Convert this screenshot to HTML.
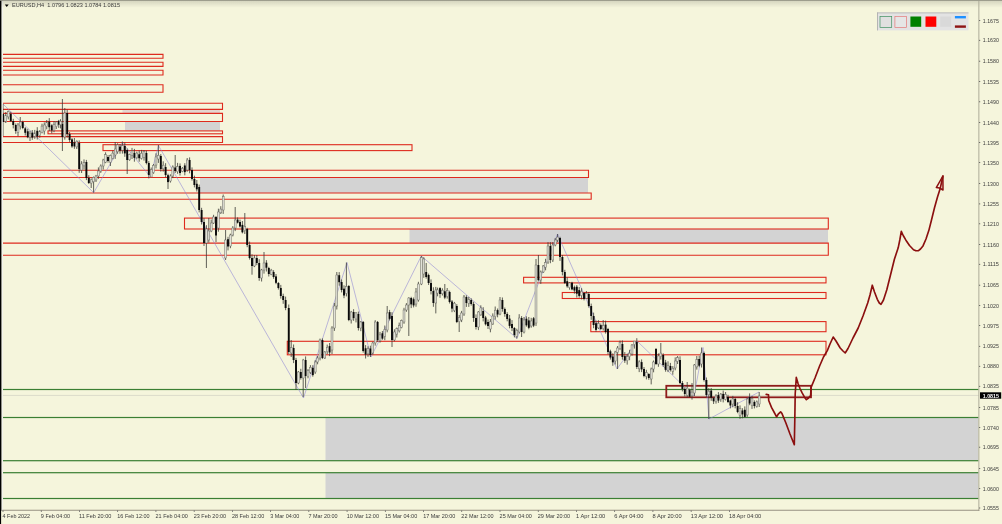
<!DOCTYPE html>
<html><head><meta charset="utf-8"><title>EURUSD,H4</title>
<style>
html,body{margin:0;padding:0;background:#F5F5DC;}
body{width:1002px;height:524px;overflow:hidden;}
svg text{font-family:"Liberation Sans",sans-serif;font-size:5.9px;}
svg{filter:blur(0.3px);}
</style></head><body>
<svg width="1002" height="524" viewBox="0 0 1002 524" style="display:block">
<rect x="0" y="0" width="1002" height="524" fill="#F5F5DC"/>
<rect x="122.5" y="109.8" width="97.50" height="3.60" fill="#E4D6CF"/>
<rect x="125" y="121.5" width="95.00" height="9.10" fill="#D3D3D3"/>
<rect x="200" y="177.5" width="388.00" height="15.50" fill="#D3D3D3"/>
<rect x="409.5" y="229" width="418.50" height="14.00" fill="#D3D3D3"/>
<rect x="325.5" y="418" width="652.90" height="42.30" fill="#D3D3D3"/>
<rect x="325.5" y="473" width="652.90" height="25.00" fill="#D3D3D3"/>
<rect x="3" y="388.9" width="975.6" height="1.2" fill="#3A7F33"/>
<rect x="3" y="416.9" width="975.6" height="1.2" fill="#3A7F33"/>
<rect x="3" y="460.09999999999997" width="975.6" height="1.2" fill="#3A7F33"/>
<rect x="3" y="472.09999999999997" width="975.6" height="1.2" fill="#3A7F33"/>
<rect x="3" y="497.9" width="975.6" height="1.2" fill="#3A7F33"/>
<rect x="3" y="394.95" width="976" height="0.7" fill="#D2D2C4"/>
<path d="M3 54.4H163V58.3H3" fill="none" stroke="#DE2A1E" stroke-width="1.1"/>
<path d="M3 62.2H163V66.4H3" fill="none" stroke="#DE2A1E" stroke-width="1.1"/>
<path d="M3 70.2H163V75.0H3" fill="none" stroke="#DE2A1E" stroke-width="1.1"/>
<path d="M3 84.7H163V92.3H3" fill="none" stroke="#DE2A1E" stroke-width="1.1"/>
<path d="M3 103.3H222.5V109.4H3" fill="none" stroke="#DE2A1E" stroke-width="1.1"/>
<path d="M3 113.4H222.5V121.5H3" fill="none" stroke="#DE2A1E" stroke-width="1.1"/>
<rect x="48" y="130.9" width="174.50" height="2.90" fill="none" stroke="#DE2A1E" stroke-width="1.1"/>
<path d="M3 136.6H222.5V142.5H3" fill="none" stroke="#DE2A1E" stroke-width="1.1"/>
<rect x="103" y="144.7" width="309.00" height="5.90" fill="none" stroke="#DE2A1E" stroke-width="1.1"/>
<path d="M3 170.2H588.5V177.5H3" fill="none" stroke="#DE2A1E" stroke-width="1.1"/>
<path d="M3 193H591.2V199.2H3" fill="none" stroke="#DE2A1E" stroke-width="1.1"/>
<rect x="184.5" y="218.1" width="643.80" height="10.90" fill="none" stroke="#DE2A1E" stroke-width="1.1"/>
<path d="M3 243.1H828.3V255.2H3" fill="none" stroke="#DE2A1E" stroke-width="1.1"/>
<rect x="287.3" y="341.3" width="538.70" height="13.50" fill="none" stroke="#DE2A1E" stroke-width="1.1"/>
<rect x="523.6" y="277.3" width="302.40" height="5.60" fill="none" stroke="#DE2A1E" stroke-width="1.1"/>
<rect x="562.3" y="292.5" width="263.70" height="6.00" fill="none" stroke="#DE2A1E" stroke-width="1.1"/>
<rect x="590.8" y="321.6" width="235.20" height="10.10" fill="none" stroke="#DE2A1E" stroke-width="1.1"/>
<rect x="666.3" y="385.8" width="144.7" height="11.5" fill="none" stroke="#8E1B1B" stroke-width="1.8"/>
<polyline fill="none" stroke="#8a80d4" stroke-width="0.55" points="3,104 93.7,192.7 122.4,142.7 150.5,177 158.4,145.4 303.5,398 347,262.5 371,357 421.3,256 517,338.5 557.5,234 617,369 637,341 694,396 703,347.5 709,419 759,392"/>
<path d="M3.00 104.0V136.0M5.75 112.1V123.0M8.25 110.5V119.4M10.75 111.8V122.0M13.25 118.8V128.4M15.75 123.5V133.8M18.00 123.0V136.2M20.25 117.0V129.5M22.75 120.7V129.2M25.25 127.1V135.5M27.75 128.8V138.2M30.00 130.8V141.0M32.25 130.0V139.8M34.75 129.9V138.8M37.25 127.2V139.5M39.75 130.1V137.7M42.00 123.7V133.4M44.25 122.4V134.6M46.75 120.0V129.3M49.25 118.1V131.0M51.75 124.3V133.4M54.00 121.1V132.2M56.25 121.1V129.0M58.75 119.9V127.9M60.50 119.2V128.4M62.40 99.0V151.0M64.80 108.0V139.6M67.20 109.6V137.6M69.60 131.9V141.9M72.00 138.1V147.8M74.40 138.0V148.8M76.80 140.4V149.0M79.20 140.4V172.8M81.60 161.2V173.0M84.00 159.4V169.5M86.40 159.9V180.1M88.80 175.2V184.0M91.20 178.4V188.0M93.60 176.5V192.6M96.00 174.9V182.0M98.40 167.4V178.8M100.80 164.4V172.9M103.20 158.8V169.5M105.60 152.3V163.2M108.00 155.1V162.6M110.40 154.6V166.0M112.80 150.6V159.4M115.20 142.0V158.9M117.60 143.3V153.8M120.00 144.2V153.7M122.40 141.5V153.6M124.80 142.6V156.8M127.20 148.5V174.0M129.60 153.7V160.8M132.00 147.9V159.0M134.40 148.9V161.7M136.80 151.6V159.2M139.20 150.6V161.7M141.60 149.9V159.5M144.00 150.0V160.6M146.40 150.7V164.4M148.80 161.1V178.4M151.20 167.5V177.0M153.60 164.0V173.8M156.00 153.3V168.4M158.40 145.0V162.9M160.80 154.1V171.6M163.20 161.3V171.7M165.60 163.2V177.2M168.00 173.7V189.0M170.40 174.3V182.6M172.80 165.4V178.1M175.20 155.0V173.0M177.60 162.9V173.8M180.00 163.4V175.5M182.40 167.0V172.2M184.80 163.2V175.3M187.20 158.0V171.8M189.60 157.4V173.3M192.00 167.4V180.6M194.40 175.7V187.4M196.80 180.0V191.5M199.20 184.6V212.4M201.60 207.8V224.5M204.00 218.2V246.0M206.40 225.2V268.0M208.80 218.0V242.6M211.20 219.5V232.2M213.60 214.8V224.0M216.00 216.0V242.0M218.40 208.7V231.7M220.80 206.2V214.0M223.20 194.5V213.9M225.60 230.0V260.0M228.00 236.8V250.4M230.40 233.7V248.2M232.80 226.1V236.4M235.20 207.0V231.1M237.60 217.4V223.5M240.00 219.6V227.5M242.40 221.0V233.4M244.80 213.0V234.0M247.20 227.8V247.2M249.60 241.6V259.6M252.00 254.3V274.7M254.40 255.0V267.1M256.80 255.0V265.2M259.20 259.2V280.8M261.60 268.9V281.5M264.00 252.0V273.6M266.40 260.1V271.5M268.80 266.8V276.5M271.20 268.9V275.2M273.60 270.2V278.8M276.00 274.0V284.2M278.40 282.1V289.6M280.80 284.9V298.6M283.20 293.7V303.8M285.60 296.6V310.2M288.75 304.5V354.1M291.20 340.0V357.0M293.60 344.5V363.1M296.00 357.9V390.0M298.40 371.0V384.2M300.80 368.8V379.6M303.20 358.9V397.0M305.60 356.4V388.0M308.00 369.0V378.3M310.40 365.1V374.0M312.80 365.2V376.7M315.20 360.2V373.9M317.60 356.0V364.3M320.00 338.6V360.4M322.40 338.4V359.1M324.80 351.1V358.9M327.20 344.6V354.1M329.60 343.0V356.1M332.00 326.2V354.0M334.40 302.9V330.9M336.80 272.0V309.5M339.20 272.1V285.7M341.60 279.5V292.4M344.00 285.3V298.2M346.40 262.5V296.4M348.80 285.1V321.2M351.20 310.9V323.5M353.60 309.2V320.8M356.00 312.1V322.4M358.40 311.6V330.5M360.80 321.0V331.2M363.20 321.0V352.6M365.60 345.1V358.5M368.00 346.3V356.9M370.40 345.7V357.0M372.80 341.7V354.6M375.20 320.2V345.6M377.60 321.0V341.7M380.00 331.9V342.6M382.40 331.0V339.8M384.80 325.5V340.2M387.20 306.0V332.3M389.60 309.9V320.4M392.00 312.2V347.0M394.40 329.3V341.3M396.80 327.5V337.5M399.20 322.6V332.5M401.60 319.6V328.3M404.00 307.8V323.8M406.40 303.1V311.8M408.80 297.2V336.0M411.20 296.8V308.1M413.60 297.5V307.4M416.00 288.0V306.7M418.40 281.8V301.7M421.40 256.0V285.1M423.80 257.3V277.8M426.20 263.0V278.7M428.60 273.6V285.0M431.00 279.4V294.4M433.40 287.3V306.8M435.80 286.9V313.4M437.60 287.6V296.3M440.00 287.2V297.8M442.40 288.3V295.5M444.80 284.0V299.2M447.20 288.0V298.6M449.60 290.7V303.5M452.00 300.0V312.2M454.40 301.9V312.1M456.80 304.1V323.1M459.20 314.9V332.0M461.60 310.9V322.1M464.00 295.0V315.9M466.40 295.3V306.9M468.80 296.9V306.9M471.20 298.3V305.6M473.60 301.8V321.9M476.00 314.4V329.5M478.40 311.1V330.1M480.80 305.3V315.8M483.20 307.2V321.4M485.60 315.9V325.5M488.00 319.5V329.0M490.40 319.0V332.3M492.80 313.4V324.9M495.20 306.5V319.6M497.60 308.5V317.3M500.00 297.0V315.2M502.40 297.5V311.7M504.80 307.5V316.7M507.20 312.2V321.3M509.60 315.0V328.3M512.00 320.1V331.1M514.40 327.1V337.4M516.80 328.7V338.5M519.20 314.2V333.5M521.60 316.1V337.0M524.00 317.0V333.4M526.40 316.3V326.7M528.80 317.0V329.3M531.20 317.8V327.7M533.60 317.0V327.1M536.00 259.0V325.9M538.40 255.0V281.3M540.80 270.5V283.9M543.20 265.0V273.0M545.60 258.8V270.3M548.00 242.2V263.9M550.40 242.2V263.2M552.80 242.1V262.0M555.20 238.1V246.3M557.60 234.0V242.0M560.00 236.8V260.9M562.40 255.1V275.4M564.80 269.8V284.0M567.20 277.4V287.7M569.60 282.1V289.7M572.00 281.8V290.3M574.40 285.6V293.7M576.80 285.0V297.6M579.20 287.0V297.7M581.60 288.2V299.4M584.00 292.1V300.4M586.40 291.0V299.0M588.80 292.0V307.6M591.20 303.6V319.8M593.60 312.6V328.2M596.00 320.5V331.7M598.40 320.2V329.0M600.80 323.5V330.0M603.20 320.0V330.5M605.60 320.6V333.6M608.00 327.9V354.4M610.40 349.7V359.6M612.80 353.3V365.8M615.20 350.8V364.5M617.60 346.0V369.0M620.00 340.6V350.1M622.40 340.4V359.7M624.80 352.1V362.9M627.20 353.7V364.6M629.60 349.8V360.2M632.00 344.1V355.7M634.40 341.0V348.6M636.80 338.2V369.0M639.20 360.3V372.1M641.60 359.4V372.1M644.00 367.0V377.3M646.40 369.8V379.4M648.80 373.2V379.8M651.20 367.6V384.4M653.60 360.5V372.3M656.00 348.0V365.1M658.40 353.4V366.8M660.80 343.0V359.6M663.20 353.3V366.8M665.60 359.9V371.7M668.00 361.3V372.1M670.40 362.9V371.5M672.80 366.1V374.7M675.20 357.4V370.3M677.60 356.0V364.0M680.00 356.3V384.1M682.40 381.0V391.4M684.80 387.3V396.5M687.20 382.0V397.7M689.60 388.7V396.7M692.00 383.0V399.6M694.40 364.0V396.0M696.80 356.0V369.6M699.20 355.7V367.2M701.60 347.5V367.5M704.00 351.6V381.5M706.40 377.5V397.0M708.80 388.1V419.0M711.20 388.0V400.8M713.60 396.9V404.0M716.00 394.2V403.6M718.40 392.1V402.9M720.80 393.0V401.8M723.20 390.6V402.4M725.60 392.0V400.5M728.00 394.8V403.1M730.40 399.6V408.4M732.80 395.9V407.3M735.20 398.0V408.4M737.60 402.2V413.2M740.00 405.4V418.8M742.40 408.2V418.3M744.80 406.4V417.6M747.20 398.0V416.9M749.60 393.4V405.2M752.00 396.0V408.9M754.40 400.4V408.4M756.80 400.5V407.6M759.20 392.0V407.0" stroke="#3a3a36" stroke-width="0.8" fill="none"/>
<g fill="#0a0a0a"><rect x="2.05" y="114.0" width="1.9" height="8.0"/><rect x="9.80" y="114.0" width="1.9" height="7.0"/><rect x="12.30" y="121.0" width="1.9" height="4.0"/><rect x="14.80" y="125.0" width="1.9" height="6.0"/><rect x="21.80" y="122.0" width="1.9" height="6.0"/><rect x="24.30" y="128.4" width="1.9" height="4.4"/><rect x="26.80" y="131.3" width="1.9" height="5.9"/><rect x="31.30" y="132.7" width="1.9" height="4.9"/><rect x="36.30" y="130.8" width="1.9" height="5.6"/><rect x="48.30" y="121.6" width="1.9" height="5.6"/><rect x="50.80" y="125.3" width="1.9" height="5.1"/><rect x="57.80" y="120.9" width="1.9" height="3.8"/><rect x="61.45" y="124.0" width="1.9" height="13.0"/><rect x="66.25" y="113.0" width="1.9" height="21.0"/><rect x="68.65" y="134.0" width="1.9" height="6.0"/><rect x="71.05" y="139.4" width="1.9" height="7.0"/><rect x="73.45" y="142.4" width="1.9" height="4.0"/><rect x="78.25" y="143.0" width="1.9" height="26.0"/><rect x="85.45" y="162.0" width="1.9" height="16.0"/><rect x="87.85" y="178.0" width="1.9" height="5.0"/><rect x="107.05" y="157.0" width="1.9" height="4.0"/><rect x="119.05" y="146.7" width="1.9" height="3.8"/><rect x="123.85" y="146.0" width="1.9" height="7.4"/><rect x="126.25" y="150.0" width="1.9" height="10.0"/><rect x="133.45" y="152.9" width="1.9" height="5.0"/><rect x="138.25" y="154.3" width="1.9" height="3.9"/><rect x="145.45" y="153.0" width="1.9" height="10.0"/><rect x="147.85" y="163.0" width="1.9" height="12.0"/><rect x="159.85" y="156.0" width="1.9" height="13.0"/><rect x="164.65" y="167.0" width="1.9" height="8.0"/><rect x="167.05" y="175.2" width="1.9" height="6.9"/><rect x="174.25" y="167.5" width="1.9" height="3.6"/><rect x="179.05" y="165.9" width="1.9" height="7.1"/><rect x="183.85" y="165.5" width="1.9" height="6.6"/><rect x="188.65" y="160.0" width="1.9" height="10.0"/><rect x="191.05" y="170.0" width="1.9" height="9.0"/><rect x="193.45" y="179.0" width="1.9" height="6.0"/><rect x="195.85" y="183.8" width="1.9" height="5.5"/><rect x="198.25" y="187.0" width="1.9" height="23.0"/><rect x="200.65" y="210.0" width="1.9" height="12.0"/><rect x="203.05" y="222.0" width="1.9" height="21.0"/><rect x="215.05" y="217.0" width="1.9" height="18.5"/><rect x="227.05" y="239.2" width="1.9" height="7.3"/><rect x="236.65" y="219.6" width="1.9" height="3.1"/><rect x="239.05" y="222.0" width="1.9" height="4.5"/><rect x="241.45" y="224.9" width="1.9" height="7.4"/><rect x="246.25" y="229.0" width="1.9" height="16.0"/><rect x="248.65" y="245.0" width="1.9" height="13.0"/><rect x="251.05" y="258.0" width="1.9" height="8.0"/><rect x="255.85" y="258.0" width="1.9" height="5.0"/><rect x="258.25" y="263.0" width="1.9" height="15.0"/><rect x="265.45" y="262.7" width="1.9" height="5.0"/><rect x="267.85" y="268.0" width="1.9" height="6.0"/><rect x="272.65" y="272.0" width="1.9" height="5.0"/><rect x="275.05" y="276.4" width="1.9" height="6.4"/><rect x="277.45" y="283.0" width="1.9" height="5.0"/><rect x="279.85" y="288.0" width="1.9" height="8.0"/><rect x="282.25" y="296.0" width="1.9" height="4.0"/><rect x="284.65" y="300.0" width="1.9" height="8.0"/><rect x="287.80" y="308.0" width="1.9" height="44.0"/><rect x="292.65" y="348.0" width="1.9" height="12.0"/><rect x="295.05" y="360.0" width="1.9" height="23.0"/><rect x="299.85" y="372.0" width="1.9" height="6.0"/><rect x="304.65" y="360.0" width="1.9" height="16.0"/><rect x="311.85" y="367.8" width="1.9" height="7.3"/><rect x="321.45" y="340.0" width="1.9" height="18.0"/><rect x="328.65" y="346.1" width="1.9" height="6.4"/><rect x="338.25" y="275.2" width="1.9" height="7.0"/><rect x="340.65" y="282.0" width="1.9" height="8.0"/><rect x="343.05" y="288.7" width="1.9" height="6.8"/><rect x="347.85" y="286.0" width="1.9" height="34.0"/><rect x="352.65" y="312.0" width="1.9" height="6.0"/><rect x="357.45" y="314.0" width="1.9" height="14.0"/><rect x="362.25" y="322.0" width="1.9" height="29.0"/><rect x="364.65" y="348.3" width="1.9" height="6.3"/><rect x="369.45" y="348.5" width="1.9" height="6.5"/><rect x="376.65" y="322.0" width="1.9" height="18.0"/><rect x="381.45" y="333.3" width="1.9" height="5.3"/><rect x="388.65" y="312.1" width="1.9" height="6.7"/><rect x="391.05" y="316.0" width="1.9" height="24.0"/><rect x="410.25" y="298.0" width="1.9" height="6.4"/><rect x="412.65" y="299.2" width="1.9" height="6.2"/><rect x="425.25" y="272.0" width="1.9" height="5.0"/><rect x="427.65" y="275.0" width="1.9" height="8.0"/><rect x="430.05" y="283.0" width="1.9" height="8.0"/><rect x="432.45" y="291.0" width="1.9" height="12.0"/><rect x="439.05" y="288.1" width="1.9" height="5.9"/><rect x="443.85" y="291.3" width="1.9" height="6.3"/><rect x="448.65" y="292.0" width="1.9" height="10.0"/><rect x="451.05" y="301.5" width="1.9" height="7.1"/><rect x="455.85" y="306.0" width="1.9" height="16.0"/><rect x="465.45" y="297.0" width="1.9" height="6.0"/><rect x="470.25" y="300.0" width="1.9" height="4.0"/><rect x="472.65" y="304.0" width="1.9" height="14.0"/><rect x="475.05" y="318.0" width="1.9" height="9.0"/><rect x="482.25" y="311.0" width="1.9" height="7.0"/><rect x="484.65" y="317.5" width="1.9" height="6.8"/><rect x="487.05" y="322.0" width="1.9" height="4.0"/><rect x="496.65" y="310.1" width="1.9" height="4.4"/><rect x="501.45" y="300.0" width="1.9" height="9.0"/><rect x="503.85" y="309.0" width="1.9" height="5.0"/><rect x="506.25" y="314.0" width="1.9" height="5.0"/><rect x="508.65" y="318.6" width="1.9" height="7.3"/><rect x="511.05" y="324.0" width="1.9" height="4.1"/><rect x="513.45" y="328.0" width="1.9" height="7.0"/><rect x="520.65" y="318.0" width="1.9" height="14.0"/><rect x="525.45" y="318.7" width="1.9" height="6.6"/><rect x="527.85" y="320.4" width="1.9" height="7.4"/><rect x="532.65" y="318.3" width="1.9" height="7.3"/><rect x="537.45" y="265.0" width="1.9" height="15.0"/><rect x="549.45" y="246.0" width="1.9" height="14.0"/><rect x="559.05" y="238.0" width="1.9" height="19.0"/><rect x="561.45" y="257.0" width="1.9" height="15.0"/><rect x="563.85" y="272.0" width="1.9" height="11.0"/><rect x="566.25" y="281.2" width="1.9" height="5.1"/><rect x="571.05" y="282.7" width="1.9" height="6.7"/><rect x="573.45" y="287.2" width="1.9" height="3.3"/><rect x="575.85" y="286.7" width="1.9" height="7.0"/><rect x="578.25" y="290.1" width="1.9" height="5.8"/><rect x="583.05" y="293.0" width="1.9" height="5.9"/><rect x="587.85" y="294.0" width="1.9" height="12.0"/><rect x="590.25" y="306.0" width="1.9" height="10.0"/><rect x="592.65" y="316.0" width="1.9" height="9.0"/><rect x="595.05" y="323.2" width="1.9" height="6.7"/><rect x="599.85" y="325.1" width="1.9" height="3.9"/><rect x="604.65" y="324.6" width="1.9" height="7.4"/><rect x="607.05" y="329.0" width="1.9" height="23.0"/><rect x="609.45" y="351.3" width="1.9" height="6.2"/><rect x="611.85" y="356.5" width="1.9" height="5.8"/><rect x="621.45" y="344.0" width="1.9" height="13.0"/><rect x="623.85" y="356.1" width="1.9" height="4.5"/><rect x="635.85" y="342.0" width="1.9" height="25.0"/><rect x="640.65" y="362.1" width="1.9" height="7.3"/><rect x="643.05" y="369.0" width="1.9" height="7.0"/><rect x="647.85" y="374.0" width="1.9" height="4.0"/><rect x="655.05" y="349.0" width="1.9" height="15.0"/><rect x="662.25" y="355.0" width="1.9" height="10.0"/><rect x="664.65" y="362.5" width="1.9" height="7.3"/><rect x="669.45" y="366.0" width="1.9" height="4.0"/><rect x="679.05" y="360.0" width="1.9" height="23.0"/><rect x="681.45" y="383.0" width="1.9" height="6.0"/><rect x="683.85" y="389.0" width="1.9" height="5.0"/><rect x="688.65" y="390.1" width="1.9" height="6.6"/><rect x="698.25" y="359.0" width="1.9" height="6.7"/><rect x="703.05" y="353.0" width="1.9" height="27.0"/><rect x="705.45" y="380.0" width="1.9" height="15.0"/><rect x="710.25" y="390.6" width="1.9" height="7.0"/><rect x="712.65" y="398.1" width="1.9" height="3.2"/><rect x="717.45" y="395.0" width="1.9" height="5.6"/><rect x="722.25" y="393.9" width="1.9" height="5.2"/><rect x="727.05" y="397.0" width="1.9" height="5.0"/><rect x="729.45" y="400.5" width="1.9" height="5.0"/><rect x="734.25" y="399.0" width="1.9" height="7.0"/><rect x="736.65" y="406.0" width="1.9" height="6.0"/><rect x="741.45" y="410.5" width="1.9" height="3.9"/><rect x="743.85" y="409.8" width="1.9" height="7.1"/><rect x="748.65" y="397.1" width="1.9" height="6.4"/><rect x="753.45" y="402.0" width="1.9" height="4.0"/></g>
<g fill="#E2E2D8" stroke="#6f6f67" stroke-width="0.5"><rect x="4.80" y="115.0" width="1.9" height="7.0"/><rect x="7.30" y="111.5" width="1.9" height="5.4"/><rect x="17.05" y="125.0" width="1.9" height="7.3"/><rect x="19.30" y="122.0" width="1.9" height="4.0"/><rect x="29.05" y="133.8" width="1.9" height="3.3"/><rect x="33.80" y="132.9" width="1.9" height="4.3"/><rect x="38.80" y="131.3" width="1.9" height="4.3"/><rect x="41.05" y="126.1" width="1.9" height="6.4"/><rect x="43.30" y="125.0" width="1.9" height="6.0"/><rect x="45.80" y="122.2" width="1.9" height="4.4"/><rect x="53.05" y="124.5" width="1.9" height="5.9"/><rect x="55.30" y="122.0" width="1.9" height="4.7"/><rect x="59.55" y="121.2" width="1.9" height="3.6"/><rect x="63.85" y="113.0" width="1.9" height="24.0"/><rect x="75.85" y="141.2" width="1.9" height="5.7"/><rect x="80.65" y="164.0" width="1.9" height="6.1"/><rect x="83.05" y="162.7" width="1.9" height="3.2"/><rect x="90.25" y="179.8" width="1.9" height="3.3"/><rect x="92.65" y="177.3" width="1.9" height="4.5"/><rect x="95.05" y="176.0" width="1.9" height="4.0"/><rect x="97.45" y="171.0" width="1.9" height="5.0"/><rect x="99.85" y="166.0" width="1.9" height="5.0"/><rect x="102.25" y="160.0" width="1.9" height="6.0"/><rect x="104.65" y="154.7" width="1.9" height="7.5"/><rect x="109.45" y="155.5" width="1.9" height="6.7"/><rect x="111.85" y="153.1" width="1.9" height="5.4"/><rect x="114.25" y="149.0" width="1.9" height="6.0"/><rect x="116.65" y="144.9" width="1.9" height="6.9"/><rect x="121.45" y="145.7" width="1.9" height="4.5"/><rect x="128.65" y="154.5" width="1.9" height="5.3"/><rect x="131.05" y="150.9" width="1.9" height="4.3"/><rect x="135.85" y="153.1" width="1.9" height="4.6"/><rect x="140.65" y="153.2" width="1.9" height="5.2"/><rect x="143.05" y="151.3" width="1.9" height="6.0"/><rect x="150.25" y="169.6" width="1.9" height="7.4"/><rect x="152.65" y="165.3" width="1.9" height="7.3"/><rect x="155.05" y="157.0" width="1.9" height="8.0"/><rect x="157.45" y="155.3" width="1.9" height="3.7"/><rect x="162.25" y="165.2" width="1.9" height="3.6"/><rect x="169.45" y="176.0" width="1.9" height="5.0"/><rect x="171.85" y="167.0" width="1.9" height="9.0"/><rect x="176.65" y="166.6" width="1.9" height="5.1"/><rect x="181.45" y="168.3" width="1.9" height="3.1"/><rect x="186.25" y="160.0" width="1.9" height="10.0"/><rect x="205.45" y="229.0" width="1.9" height="14.0"/><rect x="207.85" y="231.0" width="1.9" height="9.0"/><rect x="210.25" y="223.0" width="1.9" height="8.0"/><rect x="212.65" y="217.0" width="1.9" height="6.0"/><rect x="217.45" y="212.0" width="1.9" height="16.0"/><rect x="219.85" y="209.1" width="1.9" height="3.7"/><rect x="222.25" y="196.5" width="1.9" height="13.5"/><rect x="224.65" y="240.0" width="1.9" height="18.0"/><rect x="229.45" y="235.0" width="1.9" height="11.0"/><rect x="231.85" y="228.0" width="1.9" height="7.0"/><rect x="234.25" y="220.0" width="1.9" height="8.0"/><rect x="243.85" y="226.5" width="1.9" height="4.2"/><rect x="253.45" y="258.0" width="1.9" height="8.0"/><rect x="260.65" y="270.0" width="1.9" height="8.0"/><rect x="263.05" y="263.0" width="1.9" height="7.0"/><rect x="270.25" y="270.2" width="1.9" height="4.1"/><rect x="290.25" y="347.7" width="1.9" height="5.3"/><rect x="297.45" y="372.0" width="1.9" height="11.0"/><rect x="302.25" y="360.0" width="1.9" height="18.0"/><rect x="307.05" y="370.6" width="1.9" height="6.0"/><rect x="309.45" y="367.3" width="1.9" height="5.1"/><rect x="314.25" y="362.0" width="1.9" height="10.0"/><rect x="316.65" y="358.0" width="1.9" height="4.0"/><rect x="319.05" y="340.0" width="1.9" height="18.0"/><rect x="323.85" y="352.0" width="1.9" height="6.0"/><rect x="326.25" y="347.3" width="1.9" height="4.4"/><rect x="331.05" y="328.0" width="1.9" height="22.0"/><rect x="333.45" y="306.0" width="1.9" height="22.0"/><rect x="335.85" y="275.0" width="1.9" height="31.0"/><rect x="345.45" y="286.4" width="1.9" height="7.0"/><rect x="350.25" y="312.0" width="1.9" height="8.0"/><rect x="355.05" y="312.9" width="1.9" height="6.1"/><rect x="359.85" y="322.0" width="1.9" height="6.0"/><rect x="367.05" y="348.7" width="1.9" height="5.2"/><rect x="371.85" y="343.0" width="1.9" height="10.0"/><rect x="374.25" y="322.0" width="1.9" height="21.0"/><rect x="379.05" y="334.9" width="1.9" height="6.0"/><rect x="383.85" y="329.4" width="1.9" height="7.0"/><rect x="386.25" y="313.0" width="1.9" height="17.0"/><rect x="393.45" y="332.0" width="1.9" height="8.0"/><rect x="395.85" y="328.7" width="1.9" height="5.4"/><rect x="398.25" y="325.6" width="1.9" height="5.3"/><rect x="400.65" y="320.5" width="1.9" height="7.0"/><rect x="403.05" y="310.0" width="1.9" height="12.0"/><rect x="405.45" y="305.0" width="1.9" height="5.0"/><rect x="407.85" y="298.0" width="1.9" height="7.0"/><rect x="415.05" y="292.0" width="1.9" height="12.0"/><rect x="417.45" y="284.0" width="1.9" height="16.0"/><rect x="420.45" y="257.5" width="1.9" height="26.5"/><rect x="422.85" y="259.0" width="1.9" height="15.0"/><rect x="434.85" y="290.0" width="1.9" height="13.0"/><rect x="436.65" y="289.9" width="1.9" height="3.2"/><rect x="441.45" y="290.2" width="1.9" height="3.6"/><rect x="446.25" y="290.6" width="1.9" height="6.0"/><rect x="453.45" y="303.2" width="1.9" height="7.5"/><rect x="458.25" y="317.5" width="1.9" height="4.1"/><rect x="460.65" y="313.0" width="1.9" height="7.0"/><rect x="463.05" y="297.0" width="1.9" height="17.0"/><rect x="467.85" y="299.7" width="1.9" height="3.6"/><rect x="477.45" y="312.0" width="1.9" height="15.0"/><rect x="479.85" y="307.9" width="1.9" height="7.0"/><rect x="489.45" y="321.8" width="1.9" height="7.2"/><rect x="491.85" y="316.0" width="1.9" height="8.0"/><rect x="494.25" y="310.2" width="1.9" height="6.5"/><rect x="499.05" y="300.0" width="1.9" height="14.0"/><rect x="515.85" y="330.3" width="1.9" height="6.0"/><rect x="518.25" y="318.0" width="1.9" height="14.0"/><rect x="523.05" y="320.0" width="1.9" height="12.0"/><rect x="530.25" y="321.0" width="1.9" height="5.0"/><rect x="535.05" y="265.0" width="1.9" height="58.0"/><rect x="539.85" y="272.0" width="1.9" height="8.0"/><rect x="542.25" y="266.0" width="1.9" height="6.0"/><rect x="544.65" y="262.4" width="1.9" height="4.8"/><rect x="547.05" y="246.0" width="1.9" height="16.0"/><rect x="551.85" y="245.0" width="1.9" height="15.0"/><rect x="554.25" y="240.0" width="1.9" height="5.0"/><rect x="556.65" y="237.1" width="1.9" height="3.0"/><rect x="568.65" y="283.0" width="1.9" height="4.6"/><rect x="580.65" y="291.4" width="1.9" height="4.2"/><rect x="585.45" y="293.3" width="1.9" height="5.1"/><rect x="597.45" y="323.5" width="1.9" height="4.4"/><rect x="602.25" y="325.5" width="1.9" height="3.2"/><rect x="614.25" y="352.0" width="1.9" height="9.0"/><rect x="616.65" y="348.0" width="1.9" height="4.3"/><rect x="619.05" y="342.2" width="1.9" height="6.3"/><rect x="626.25" y="356.6" width="1.9" height="4.0"/><rect x="628.65" y="353.2" width="1.9" height="3.5"/><rect x="631.05" y="345.0" width="1.9" height="9.0"/><rect x="633.45" y="341.1" width="1.9" height="3.5"/><rect x="638.25" y="361.9" width="1.9" height="6.9"/><rect x="645.45" y="372.6" width="1.9" height="3.9"/><rect x="650.25" y="369.0" width="1.9" height="10.0"/><rect x="652.65" y="362.0" width="1.9" height="7.0"/><rect x="657.45" y="356.0" width="1.9" height="8.0"/><rect x="659.85" y="353.1" width="1.9" height="3.4"/><rect x="667.05" y="365.3" width="1.9" height="4.9"/><rect x="671.85" y="368.3" width="1.9" height="3.0"/><rect x="674.25" y="361.0" width="1.9" height="7.0"/><rect x="676.65" y="357.7" width="1.9" height="3.7"/><rect x="686.25" y="388.1" width="1.9" height="7.2"/><rect x="691.05" y="392.1" width="1.9" height="3.6"/><rect x="693.45" y="365.0" width="1.9" height="28.0"/><rect x="695.85" y="359.7" width="1.9" height="7.2"/><rect x="700.65" y="353.0" width="1.9" height="11.0"/><rect x="707.85" y="391.2" width="1.9" height="3.6"/><rect x="715.05" y="396.0" width="1.9" height="5.5"/><rect x="719.85" y="394.1" width="1.9" height="5.0"/><rect x="724.65" y="394.3" width="1.9" height="5.1"/><rect x="731.85" y="399.0" width="1.9" height="5.0"/><rect x="739.05" y="408.6" width="1.9" height="6.9"/><rect x="746.25" y="399.0" width="1.9" height="16.0"/><rect x="751.05" y="398.5" width="1.9" height="6.7"/><rect x="755.85" y="401.9" width="1.9" height="4.4"/><rect x="758.25" y="396.0" width="1.9" height="8.0"/></g>
<polyline fill="none" stroke="#8B0F0F" stroke-width="1.65" stroke-linejoin="round" stroke-linecap="round" points="766.2,394.4 768.5,394.8 768.7,400.5 771.5,407.4 774,412 776.6,416.8 778.5,413.8 780.6,411.8 782,413.6 785.8,422.7 790,434 794.3,444.7 794.8,420 795.2,394 796.3,377.4 798.2,384 800,388.5 802,392.7 804.5,397.2 806.4,399.7 808.5,398 810.6,395.5 811.1,387.4 815,378 819.6,366 823.5,357 827.3,350.6 830,344 833.2,337 836,341 840.2,348 843,351 845.2,353 848,348.5 853,338 858.2,328 863,316 867.7,303 870,295 872.3,285.2 874.5,292 877.3,299.3 879.3,303 881,304.3 883.5,300 886.8,289.8 890.5,275 894.4,259.2 898.2,247.8 899.8,240 901.3,231.4 903.2,235.5 905.9,240.2 909.5,245.5 913.5,249.7 916,250.8 918.5,250.6 920.5,249 923,245.9 926,239 928.8,230.6 931.5,220 934.5,207.7 937.5,197 940.2,188.6 942.9,176"/>
<path d="M936.3 187.6 L942.9 176 L943 190 L939.5 188 Z" fill="none" stroke="#8B0F0F" stroke-width="1.5" stroke-linejoin="round"/>
<rect x="0" y="0" width="1.1" height="524" fill="#000"/>
<rect x="1.1" y="0" width="1.2" height="511" fill="#8a8a80"/>
<rect x="2.3" y="1" width="0.7" height="509" fill="#fff"/>
<defs><linearGradient id="tg" x1="0" y1="0" x2="0" y2="1"><stop offset="0" stop-color="#000" stop-opacity="0.13"/><stop offset="1" stop-color="#000" stop-opacity="0"/></linearGradient></defs>
<rect x="0" y="0.8" width="1002" height="7" fill="url(#tg)"/>
<rect x="0" y="0" width="1002" height="0.85" fill="#8f8f80"/>
<rect x="978.3" y="1" width="1.1" height="509.6" fill="#b4b29e"/>
<rect x="2.3" y="509.8" width="977.1" height="0.8" fill="#807a6c"/>
<rect x="979.1" y="20.1" width="1.1" height="0.8" fill="#444"/>
<text x="982.8" y="22.6" textLength="16.1" lengthAdjust="spacingAndGlyphs" fill="#3a3a3a">1.1675</text>
<rect x="979.1" y="39.9" width="1.1" height="0.8" fill="#444"/>
<text x="982.8" y="42.4" textLength="16.1" lengthAdjust="spacingAndGlyphs" fill="#3a3a3a">1.1630</text>
<rect x="979.1" y="60.800000000000004" width="1.1" height="0.8" fill="#444"/>
<text x="982.8" y="63.3" textLength="16.1" lengthAdjust="spacingAndGlyphs" fill="#3a3a3a">1.1580</text>
<rect x="979.1" y="81.19999999999999" width="1.1" height="0.8" fill="#444"/>
<text x="982.8" y="83.7" textLength="16.1" lengthAdjust="spacingAndGlyphs" fill="#3a3a3a">1.1535</text>
<rect x="979.1" y="101.39999999999999" width="1.1" height="0.8" fill="#444"/>
<text x="982.8" y="103.9" textLength="16.1" lengthAdjust="spacingAndGlyphs" fill="#3a3a3a">1.1490</text>
<rect x="979.1" y="122.0" width="1.1" height="0.8" fill="#444"/>
<text x="982.8" y="124.5" textLength="16.1" lengthAdjust="spacingAndGlyphs" fill="#3a3a3a">1.1440</text>
<rect x="979.1" y="142.2" width="1.1" height="0.8" fill="#444"/>
<text x="982.8" y="144.7" textLength="16.1" lengthAdjust="spacingAndGlyphs" fill="#3a3a3a">1.1395</text>
<rect x="979.1" y="162.1" width="1.1" height="0.8" fill="#444"/>
<text x="982.8" y="164.6" textLength="16.1" lengthAdjust="spacingAndGlyphs" fill="#3a3a3a">1.1350</text>
<rect x="979.1" y="183.2" width="1.1" height="0.8" fill="#444"/>
<text x="982.8" y="185.7" textLength="16.1" lengthAdjust="spacingAndGlyphs" fill="#3a3a3a">1.1300</text>
<rect x="979.1" y="203.5" width="1.1" height="0.8" fill="#444"/>
<text x="982.8" y="206.0" textLength="16.1" lengthAdjust="spacingAndGlyphs" fill="#3a3a3a">1.1255</text>
<rect x="979.1" y="223.4" width="1.1" height="0.8" fill="#444"/>
<text x="982.8" y="225.9" textLength="16.1" lengthAdjust="spacingAndGlyphs" fill="#3a3a3a">1.1210</text>
<rect x="979.1" y="244.2" width="1.1" height="0.8" fill="#444"/>
<text x="982.8" y="246.7" textLength="16.1" lengthAdjust="spacingAndGlyphs" fill="#3a3a3a">1.1160</text>
<rect x="979.1" y="263.90000000000003" width="1.1" height="0.8" fill="#444"/>
<text x="982.8" y="266.4" textLength="16.1" lengthAdjust="spacingAndGlyphs" fill="#3a3a3a">1.1115</text>
<rect x="979.1" y="284.8" width="1.1" height="0.8" fill="#444"/>
<text x="982.8" y="287.3" textLength="16.1" lengthAdjust="spacingAndGlyphs" fill="#3a3a3a">1.1065</text>
<rect x="979.1" y="305.0" width="1.1" height="0.8" fill="#444"/>
<text x="982.8" y="307.5" textLength="16.1" lengthAdjust="spacingAndGlyphs" fill="#3a3a3a">1.1020</text>
<rect x="979.1" y="325.20000000000005" width="1.1" height="0.8" fill="#444"/>
<text x="982.8" y="327.7" textLength="16.1" lengthAdjust="spacingAndGlyphs" fill="#3a3a3a">1.0975</text>
<rect x="979.1" y="345.90000000000003" width="1.1" height="0.8" fill="#444"/>
<text x="982.8" y="348.4" textLength="16.1" lengthAdjust="spacingAndGlyphs" fill="#3a3a3a">1.0925</text>
<rect x="979.1" y="365.90000000000003" width="1.1" height="0.8" fill="#444"/>
<text x="982.8" y="368.4" textLength="16.1" lengthAdjust="spacingAndGlyphs" fill="#3a3a3a">1.0880</text>
<rect x="979.1" y="385.90000000000003" width="1.1" height="0.8" fill="#444"/>
<text x="982.8" y="388.4" textLength="16.1" lengthAdjust="spacingAndGlyphs" fill="#3a3a3a">1.0835</text>
<rect x="979.1" y="407.0" width="1.1" height="0.8" fill="#444"/>
<text x="982.8" y="409.5" textLength="16.1" lengthAdjust="spacingAndGlyphs" fill="#3a3a3a">1.0785</text>
<rect x="979.1" y="427.0" width="1.1" height="0.8" fill="#444"/>
<text x="982.8" y="429.5" textLength="16.1" lengthAdjust="spacingAndGlyphs" fill="#3a3a3a">1.0740</text>
<rect x="979.1" y="446.8" width="1.1" height="0.8" fill="#444"/>
<text x="982.8" y="449.3" textLength="16.1" lengthAdjust="spacingAndGlyphs" fill="#3a3a3a">1.0695</text>
<rect x="979.1" y="468.20000000000005" width="1.1" height="0.8" fill="#444"/>
<text x="982.8" y="470.7" textLength="16.1" lengthAdjust="spacingAndGlyphs" fill="#3a3a3a">1.0645</text>
<rect x="979.1" y="488.0" width="1.1" height="0.8" fill="#444"/>
<text x="982.8" y="490.5" textLength="16.1" lengthAdjust="spacingAndGlyphs" fill="#3a3a3a">1.0600</text>
<rect x="979.1" y="507.6" width="1.1" height="0.8" fill="#444"/>
<text x="982.8" y="510.1" textLength="16.1" lengthAdjust="spacingAndGlyphs" fill="#3a3a3a">1.0555</text>
<rect x="980" y="392.3" width="21.2" height="6.4" fill="#000"/>
<text x="982.8" y="397.7" textLength="16.1" font-weight="bold" lengthAdjust="spacingAndGlyphs" fill="#fff">1.0815</text>
<rect x="2.65" y="510.4" width="0.7" height="1.6" fill="#555"/>
<text x="2.60" y="518.3" textLength="27.3" lengthAdjust="spacingAndGlyphs" fill="#3a3a3a">4 Feb 2022</text>
<rect x="40.88" y="510.4" width="0.7" height="1.6" fill="#555"/>
<text x="40.83" y="518.3" textLength="29.2" lengthAdjust="spacingAndGlyphs" fill="#3a3a3a">9 Feb 04:00</text>
<rect x="79.11" y="510.4" width="0.7" height="1.6" fill="#555"/>
<text x="79.06" y="518.3" textLength="32.3" lengthAdjust="spacingAndGlyphs" fill="#3a3a3a">11 Feb 20:00</text>
<rect x="117.34" y="510.4" width="0.7" height="1.6" fill="#555"/>
<text x="117.29" y="518.3" textLength="32.3" lengthAdjust="spacingAndGlyphs" fill="#3a3a3a">16 Feb 12:00</text>
<rect x="155.57" y="510.4" width="0.7" height="1.6" fill="#555"/>
<text x="155.52" y="518.3" textLength="32.3" lengthAdjust="spacingAndGlyphs" fill="#3a3a3a">21 Feb 04:00</text>
<rect x="193.80" y="510.4" width="0.7" height="1.6" fill="#555"/>
<text x="193.75" y="518.3" textLength="32.3" lengthAdjust="spacingAndGlyphs" fill="#3a3a3a">23 Feb 20:00</text>
<rect x="232.03" y="510.4" width="0.7" height="1.6" fill="#555"/>
<text x="231.98" y="518.3" textLength="32.3" lengthAdjust="spacingAndGlyphs" fill="#3a3a3a">28 Feb 12:00</text>
<rect x="270.26" y="510.4" width="0.7" height="1.6" fill="#555"/>
<text x="270.21" y="518.3" textLength="29.2" lengthAdjust="spacingAndGlyphs" fill="#3a3a3a">3 Mar 04:00</text>
<rect x="308.49" y="510.4" width="0.7" height="1.6" fill="#555"/>
<text x="308.44" y="518.3" textLength="29.2" lengthAdjust="spacingAndGlyphs" fill="#3a3a3a">7 Mar 20:00</text>
<rect x="346.72" y="510.4" width="0.7" height="1.6" fill="#555"/>
<text x="346.67" y="518.3" textLength="32.3" lengthAdjust="spacingAndGlyphs" fill="#3a3a3a">10 Mar 12:00</text>
<rect x="384.95" y="510.4" width="0.7" height="1.6" fill="#555"/>
<text x="384.90" y="518.3" textLength="32.3" lengthAdjust="spacingAndGlyphs" fill="#3a3a3a">15 Mar 04:00</text>
<rect x="423.18" y="510.4" width="0.7" height="1.6" fill="#555"/>
<text x="423.13" y="518.3" textLength="32.3" lengthAdjust="spacingAndGlyphs" fill="#3a3a3a">17 Mar 20:00</text>
<rect x="461.41" y="510.4" width="0.7" height="1.6" fill="#555"/>
<text x="461.36" y="518.3" textLength="32.3" lengthAdjust="spacingAndGlyphs" fill="#3a3a3a">22 Mar 12:00</text>
<rect x="499.64" y="510.4" width="0.7" height="1.6" fill="#555"/>
<text x="499.59" y="518.3" textLength="32.3" lengthAdjust="spacingAndGlyphs" fill="#3a3a3a">25 Mar 04:00</text>
<rect x="537.87" y="510.4" width="0.7" height="1.6" fill="#555"/>
<text x="537.82" y="518.3" textLength="32.3" lengthAdjust="spacingAndGlyphs" fill="#3a3a3a">29 Mar 20:00</text>
<rect x="576.10" y="510.4" width="0.7" height="1.6" fill="#555"/>
<text x="576.05" y="518.3" textLength="29.2" lengthAdjust="spacingAndGlyphs" fill="#3a3a3a">1 Apr 12:00</text>
<rect x="614.33" y="510.4" width="0.7" height="1.6" fill="#555"/>
<text x="614.28" y="518.3" textLength="29.2" lengthAdjust="spacingAndGlyphs" fill="#3a3a3a">6 Apr 04:00</text>
<rect x="652.56" y="510.4" width="0.7" height="1.6" fill="#555"/>
<text x="652.51" y="518.3" textLength="29.2" lengthAdjust="spacingAndGlyphs" fill="#3a3a3a">8 Apr 20:00</text>
<rect x="690.79" y="510.4" width="0.7" height="1.6" fill="#555"/>
<text x="690.74" y="518.3" textLength="32.3" lengthAdjust="spacingAndGlyphs" fill="#3a3a3a">13 Apr 12:00</text>
<rect x="729.02" y="510.4" width="0.7" height="1.6" fill="#555"/>
<text x="728.97" y="518.3" textLength="32.3" lengthAdjust="spacingAndGlyphs" fill="#3a3a3a">18 Apr 04:00</text>
<path d="M4.8 4.6H8.7L6.75 6.9Z" fill="#000"/>
<text x="12" y="7.2" textLength="108" lengthAdjust="spacingAndGlyphs" fill="#3a3a3a" xml:space="preserve">EURUSD,H4  1.0796 1.0823 1.0784 1.0815</text>
<rect x="877" y="12.5" width="91.5" height="17.9" fill="#E3E3E3"/>
<rect x="877" y="12.5" width="0.8" height="17.9" fill="#a8a8a8"/>
<rect x="877" y="12.5" width="91.5" height="0.8" fill="#b0b0b0"/>
<rect x="880" y="16.4" width="11.7" height="11" fill="#E0E0E0" stroke="#3E9060" stroke-width="0.7"/>
<rect x="894.9" y="16.4" width="11.7" height="11" fill="#E6E6E6" stroke="#E57A7A" stroke-width="0.7"/>
<rect x="910.4" y="16.5" width="10.8" height="10.3" fill="#008000"/>
<rect x="925.5" y="16.5" width="10.8" height="10.3" fill="#FF0000"/>
<rect x="940.2" y="16.5" width="11" height="10.3" fill="#D9D9D9"/>
<rect x="954.9" y="16" width="11" height="2.4" fill="#1E90FF"/>
<rect x="954.9" y="25.4" width="11" height="2.4" fill="#8E1414"/>
</svg>
</body></html>
